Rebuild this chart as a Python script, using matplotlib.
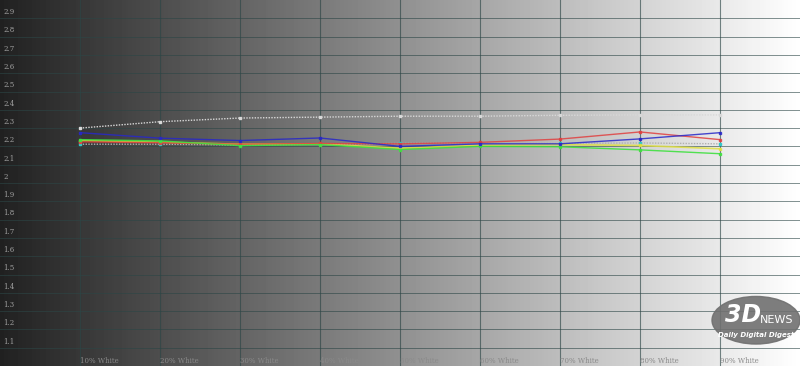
import numpy as np
import matplotlib.pyplot as plt
from matplotlib.patches import Ellipse

# x positions (% white) and tick labels
levels = [10, 20, 30, 40, 50, 60, 70, 80, 90]
tick_labels = ["%d%% White" % v for v in levels]

# gamma values
gamma_white = [2.30, 2.335, 2.355, 2.36, 2.365, 2.365, 2.37, 2.372, 2.372]
gamma_blue = [2.275, 2.245, 2.232, 2.246, 2.200, 2.214, 2.214, 2.241, 2.275]
gamma_red = [2.225, 2.220, 2.212, 2.216, 2.214, 2.222, 2.240, 2.279, 2.237]
gamma_yellow = [2.232, 2.223, 2.212, 2.214, 2.190, 2.206, 2.210, 2.205, 2.187]
gamma_green = [2.237, 2.230, 2.204, 2.210, 2.183, 2.200, 2.198, 2.181, 2.160]
gamma_cyan = [2.212, 2.212, 2.208, 2.212, 2.216, 2.220, 2.216, 2.219, 2.214]

y_ticks = np.round(np.arange(1.1, 2.95, 0.1), 1)

fig = plt.figure(figsize=(8, 3.66), dpi=100)
ax = fig.add_axes([0, 0, 1, 1])
ax.set_xlim(0, 100)
ax.set_ylim(1.0, 3.0)

# dark-to-white background
grad = np.linspace(0.13, 1.0, 400).reshape(1, -1)
ax.imshow(grad, cmap="gray", vmin=0, vmax=1, aspect="auto",
          extent=[0, 100, 1.0, 3.0], zorder=0)

# grid
for y in y_ticks:
    ax.axhline(y, color="#2c4646", lw=0.7, alpha=0.6, zorder=1)
for x in levels:
    ax.axvline(x, color="#2c4646", lw=0.8, alpha=0.65, zorder=1)

# y labels, sitting just above their lines
for y in y_ticks:
    lab = "2" if abs(y - 2.0) < 1e-6 else ("%g" % y)
    ax.text(0.4, y + 0.012, lab, fontsize=5, family="DejaVu Serif",
            color="#a0a0a0", va="bottom", ha="left", zorder=2)

# x labels
for x, lab in zip(levels, tick_labels):
    ax.text(x, 1.008, lab, fontsize=5, family="DejaVu Serif",
            color="#8a8a8a", va="bottom", ha="left", zorder=2)

# series
ax.plot(levels, gamma_white, color="#d8d8d8", lw=1.0, ls=(0, (1, 1)),
        marker="s", ms=2, zorder=3)
ax.plot(levels, gamma_cyan, color="#b0b0b0", lw=1.0, ls=(0, (1, 1)),
        marker="s", ms=2, mfc="#30c8c8", mec="#30c8c8", zorder=3)
ax.plot(levels, gamma_yellow, color="#e0e040", lw=1.2, alpha=0.85,
        marker="s", ms=2, zorder=4)
ax.plot(levels, gamma_red, color="#e04040", lw=1.0, alpha=0.85,
        marker="s", ms=2, zorder=4)
ax.plot(levels, gamma_green, color="#40e040", lw=1.0, alpha=0.9,
        marker="s", ms=2, zorder=5)
ax.plot(levels, gamma_blue, color="#2828c8", lw=1.0, alpha=0.85,
        marker="s", ms=2, zorder=5)

# watermark
ax.add_patch(Ellipse((0.945, 0.125), 0.11, 0.13, color="#707070",
                     alpha=0.9, transform=ax.transAxes, zorder=6))
ax.text(0.952, 0.14, "3D", fontsize=17, fontweight="bold", color="white",
        ha="right", va="center", style="italic", transform=ax.transAxes,
        zorder=7)
ax.text(0.95, 0.125, "NEWS", fontsize=8, color="white", ha="left",
        va="center", transform=ax.transAxes, zorder=7)
ax.text(0.945, 0.085, "Daily Digital Digest", fontsize=5, color="white",
        ha="center", va="center", style="italic", fontweight="bold",
        transform=ax.transAxes, zorder=7)

ax.axis("off")
plt.savefig("out.png", dpi=100)
